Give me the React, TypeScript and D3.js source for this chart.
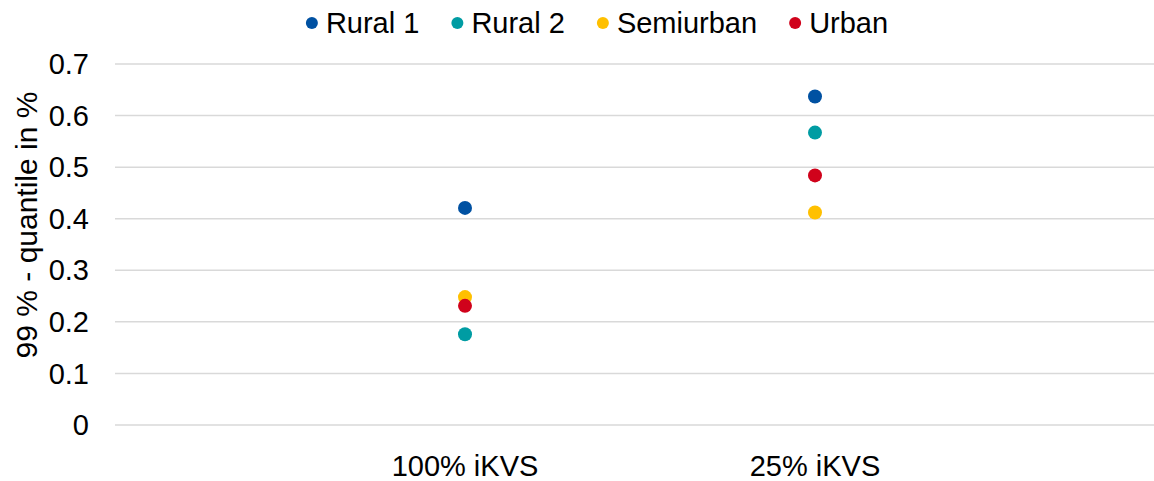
import React, { useRef, useEffect } from "react";
import * as d3 from "d3";

const categories = ["100% iKVS", "25% iKVS"];
const seriesNames = ["Rural 1", "Rural 2", "Semiurban", "Urban"];
const rural1 = [0.421, 0.637];
const rural2 = [0.176, 0.567];
const semiurban = [0.248, 0.412];
const urban = [0.231, 0.484];
const yTicks = [0, 0.1, 0.2, 0.3, 0.4, 0.5, 0.6, 0.7];
const colors = ["#0051a2", "#009ca3", "#ffc000", "#d0021b"];

const W = 1154;
const H = 481;
const font = "'Liberation Sans', Arial, sans-serif";
const fs = 29;

const App = () => {
    const ref = useRef<SVGSVGElement>(null);

    useEffect(() => {
        const svg = d3.select(ref.current);
        svg.selectAll("*").remove();

        const x = d3.scaleLinear().domain([0, 3]).range([115, 1165]);
        const y = d3.scaleLinear().domain([0, 0.7]).range([425, 64]);

        // gridlines
        svg.append("g")
            .selectAll("line")
            .data(yTicks)
            .enter()
            .append("line")
            .attr("x1", 115)
            .attr("x2", W)
            .attr("y1", (d) => y(d))
            .attr("y2", (d) => y(d))
            .attr("stroke", "#d9d9d9")
            .attr("stroke-width", 1.5);

        // y tick labels
        svg.append("g")
            .selectAll("text")
            .data(yTicks)
            .enter()
            .append("text")
            .attr("x", 89)
            .attr("y", (d) => y(d))
            .attr("dy", "0.35em")
            .attr("text-anchor", "end")
            .attr("font-family", font)
            .attr("font-size", fs)
            .attr("fill", "#000")
            .text((d) => (d === 0 ? "0" : d3.format(".1f")(d)));

        // y axis title
        svg.append("text")
            .attr("transform", "translate(37,225) rotate(-90)")
            .attr("text-anchor", "middle")
            .attr("font-family", font)
            .attr("font-size", 30)
            .text("99 % - quantile in %");

        // x category labels
        svg.append("g")
            .selectAll("text")
            .data(categories)
            .enter()
            .append("text")
            .attr("x", (d, i) => x(i + 1))
            .attr("y", 476)
            .attr("text-anchor", "middle")
            .attr("font-family", font)
            .attr("font-size", fs)
            .text((d) => d);

        // points
        const series = [rural1, rural2, semiurban, urban];
        series.forEach((vals, s) => {
            svg.append("g")
                .selectAll("circle")
                .data(vals)
                .enter()
                .append("circle")
                .attr("cx", (d, i) => x(i + 1))
                .attr("cy", (d) => y(d))
                .attr("r", 7)
                .attr("fill", colors[s]);
        });

        // legend
        const legend = svg.append("g");
        let cx = 0;
        const gap = 32;
        seriesNames.forEach((name, i) => {
            const g = legend.append("g").attr("transform", `translate(${cx},0)`);
            g.append("circle").attr("cx", 6).attr("cy", 0).attr("r", 6).attr("fill", colors[i]);
            const t = g
                .append("text")
                .attr("x", 20)
                .attr("dy", "0.35em")
                .attr("font-family", font)
                .attr("font-size", fs)
                .text(name);
            const w = (t.node() as SVGTextElement).getComputedTextLength();
            cx += 20 + w + gap;
        });
        const total = cx - gap;
        legend.attr("transform", `translate(${(W - total) / 2 + 20},23)`);
    }, []);

    return (
        <svg
            ref={ref}
            width={W}
            height={H}
            style={{ position: "absolute", left: 0, top: 0, background: "#fff" }}
        />
    );
};

export default App;
